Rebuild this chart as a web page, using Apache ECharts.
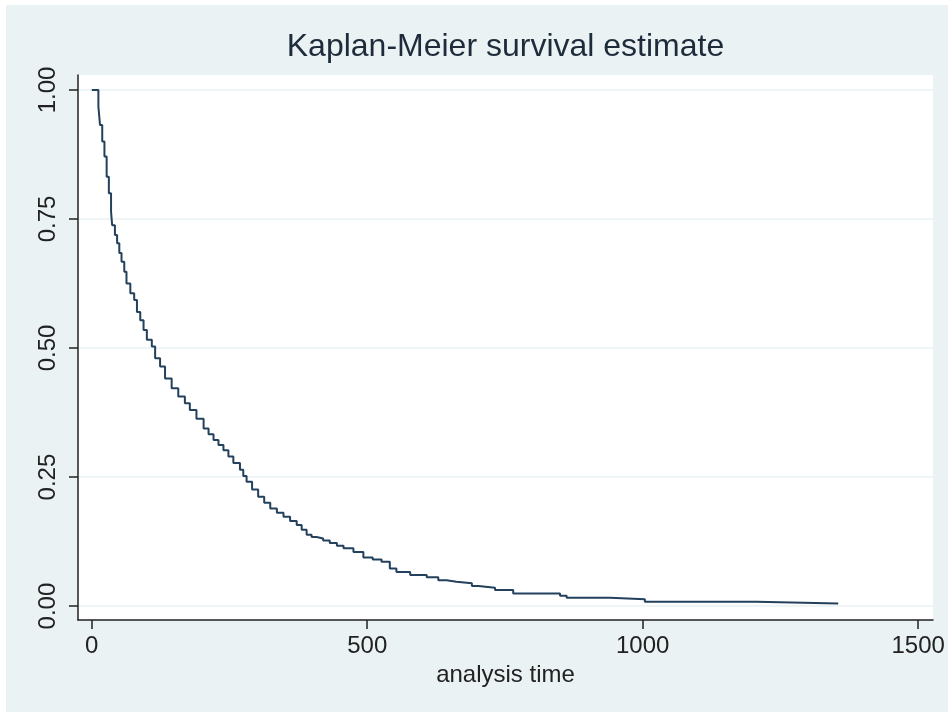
<!DOCTYPE html>
<html>
<head>
<meta charset="utf-8">
<script src="https://cdn.jsdelivr.net/npm/echarts@6/dist/echarts.min.js"></script>
<style>
  html, body { margin: 0; padding: 0; background: #fff; }
  #chart { position: absolute; left: 6px; top: 5px; width: 942px; height: 707px; }
</style>
</head>
<body>
<div id="chart"></div>
<script>
// analysis time (days) where the estimate steps down, and the survival after that step
const times = [0, 12, 15, 19, 23, 27, 31, 35, 37, 42, 46, 50, 54, 59, 63, 70, 77, 82, 88, 94,
  100, 109, 115, 124, 133, 145, 157, 169, 178, 190, 203, 212, 221, 230, 239, 248, 257, 269,
  275, 281, 291, 302, 313, 324, 336, 348, 360, 372, 381, 390, 399, 408, 420, 432, 445, 457,
  475, 493, 510, 526, 541, 553, 578, 608, 629, 644, 662, 690, 702, 732, 765, 850, 862, 941,
  1004, 1207, 1355]
const survival = [1.0, 0.968, 0.932, 0.900, 0.871, 0.832, 0.800, 0.764, 0.738, 0.719, 0.703,
  0.684, 0.667, 0.648, 0.625, 0.606, 0.593, 0.570, 0.554, 0.535, 0.516, 0.503, 0.480, 0.464,
  0.441, 0.422, 0.406, 0.393, 0.380, 0.363, 0.344, 0.333, 0.322, 0.312, 0.302, 0.290, 0.277,
  0.264, 0.252, 0.241, 0.226, 0.212, 0.200, 0.189, 0.181, 0.173, 0.165, 0.157, 0.148, 0.138,
  0.134, 0.131, 0.127, 0.122, 0.117, 0.112, 0.105, 0.094, 0.090, 0.086, 0.073, 0.066, 0.060,
  0.056, 0.050, 0.047, 0.044, 0.039, 0.0355, 0.031, 0.0245, 0.020, 0.016, 0.013, 0.0083,
  0.005, 0.005]

const xTicks = [0, 500, 1000, 1500]
const yTicks = [0, 0.25, 0.5, 0.75, 1]

const titleText = 'Kaplan-Meier survival estimate'
const xName = 'analysis time'

const font = 'Liberation Sans, Arial, sans-serif'
const bg = '#eaf2f3'

const chart = echarts.init(document.getElementById('chart'))

const option = {
  backgroundColor: bg,
  animation: false,
  graphic: [{
    type: 'text',
    x: 499.5,
    y: 26,
    style: {
      text: titleText,
      font: '32px ' + font,
      fill: '#1e2b3b',
      align: 'center',
      verticalAlign: 'top'
    }
  }],
  grid: {
    left: 72,
    top: 70,
    right: 15,
    bottom: 92,
    show: true,
    backgroundColor: '#fff',
    borderWidth: 0
  },
  xAxis: {
    type: 'value',
    min: -25,
    max: 1527,
    name: xName,
    nameLocation: 'middle',
    nameGap: 42,
    nameTextStyle: {
      fontFamily: font,
      fontSize: 24,
      color: '#222'
    },
    axisLine: {
      show: true,
      onZero: false,
      lineStyle: { color: '#222', width: 1.5 }
    },
    axisTick: {
      show: true,
      length: 9,
      customValues: xTicks,
      lineStyle: { color: '#222', width: 1.5 }
    },
    axisLabel: {
      customValues: xTicks,
      margin: 14,
      fontFamily: font,
      fontSize: 24,
      color: '#222',
      formatter: function (v) { return String(v) }
    },
    splitLine: { show: false }
  },
  yAxis: {
    type: 'value',
    min: -0.027,
    max: 1.029,
    axisLine: {
      show: true,
      onZero: false,
      lineStyle: { color: '#222', width: 1.5 }
    },
    axisTick: {
      show: true,
      length: 9,
      customValues: yTicks,
      lineStyle: { color: '#222', width: 1.5 }
    },
    axisLabel: {
      customValues: yTicks,
      rotate: 90,
      margin: 18,
      fontFamily: font,
      fontSize: 24,
      color: '#222',
      formatter: function (v) { return v.toFixed(2) }
    },
    splitLine: {
      show: true,
      lineStyle: { color: bg, width: 1.5 }
    }
  },
  series: [{
    type: 'line',
    step: 'end',
    showSymbol: false,
    data: times.map(function (t, i) { return [t, survival[i]] }),
    lineStyle: {
      color: '#23405c',
      width: 2
    }
  }]
}

chart.setOption(option)
</script>
</body>
</html>
